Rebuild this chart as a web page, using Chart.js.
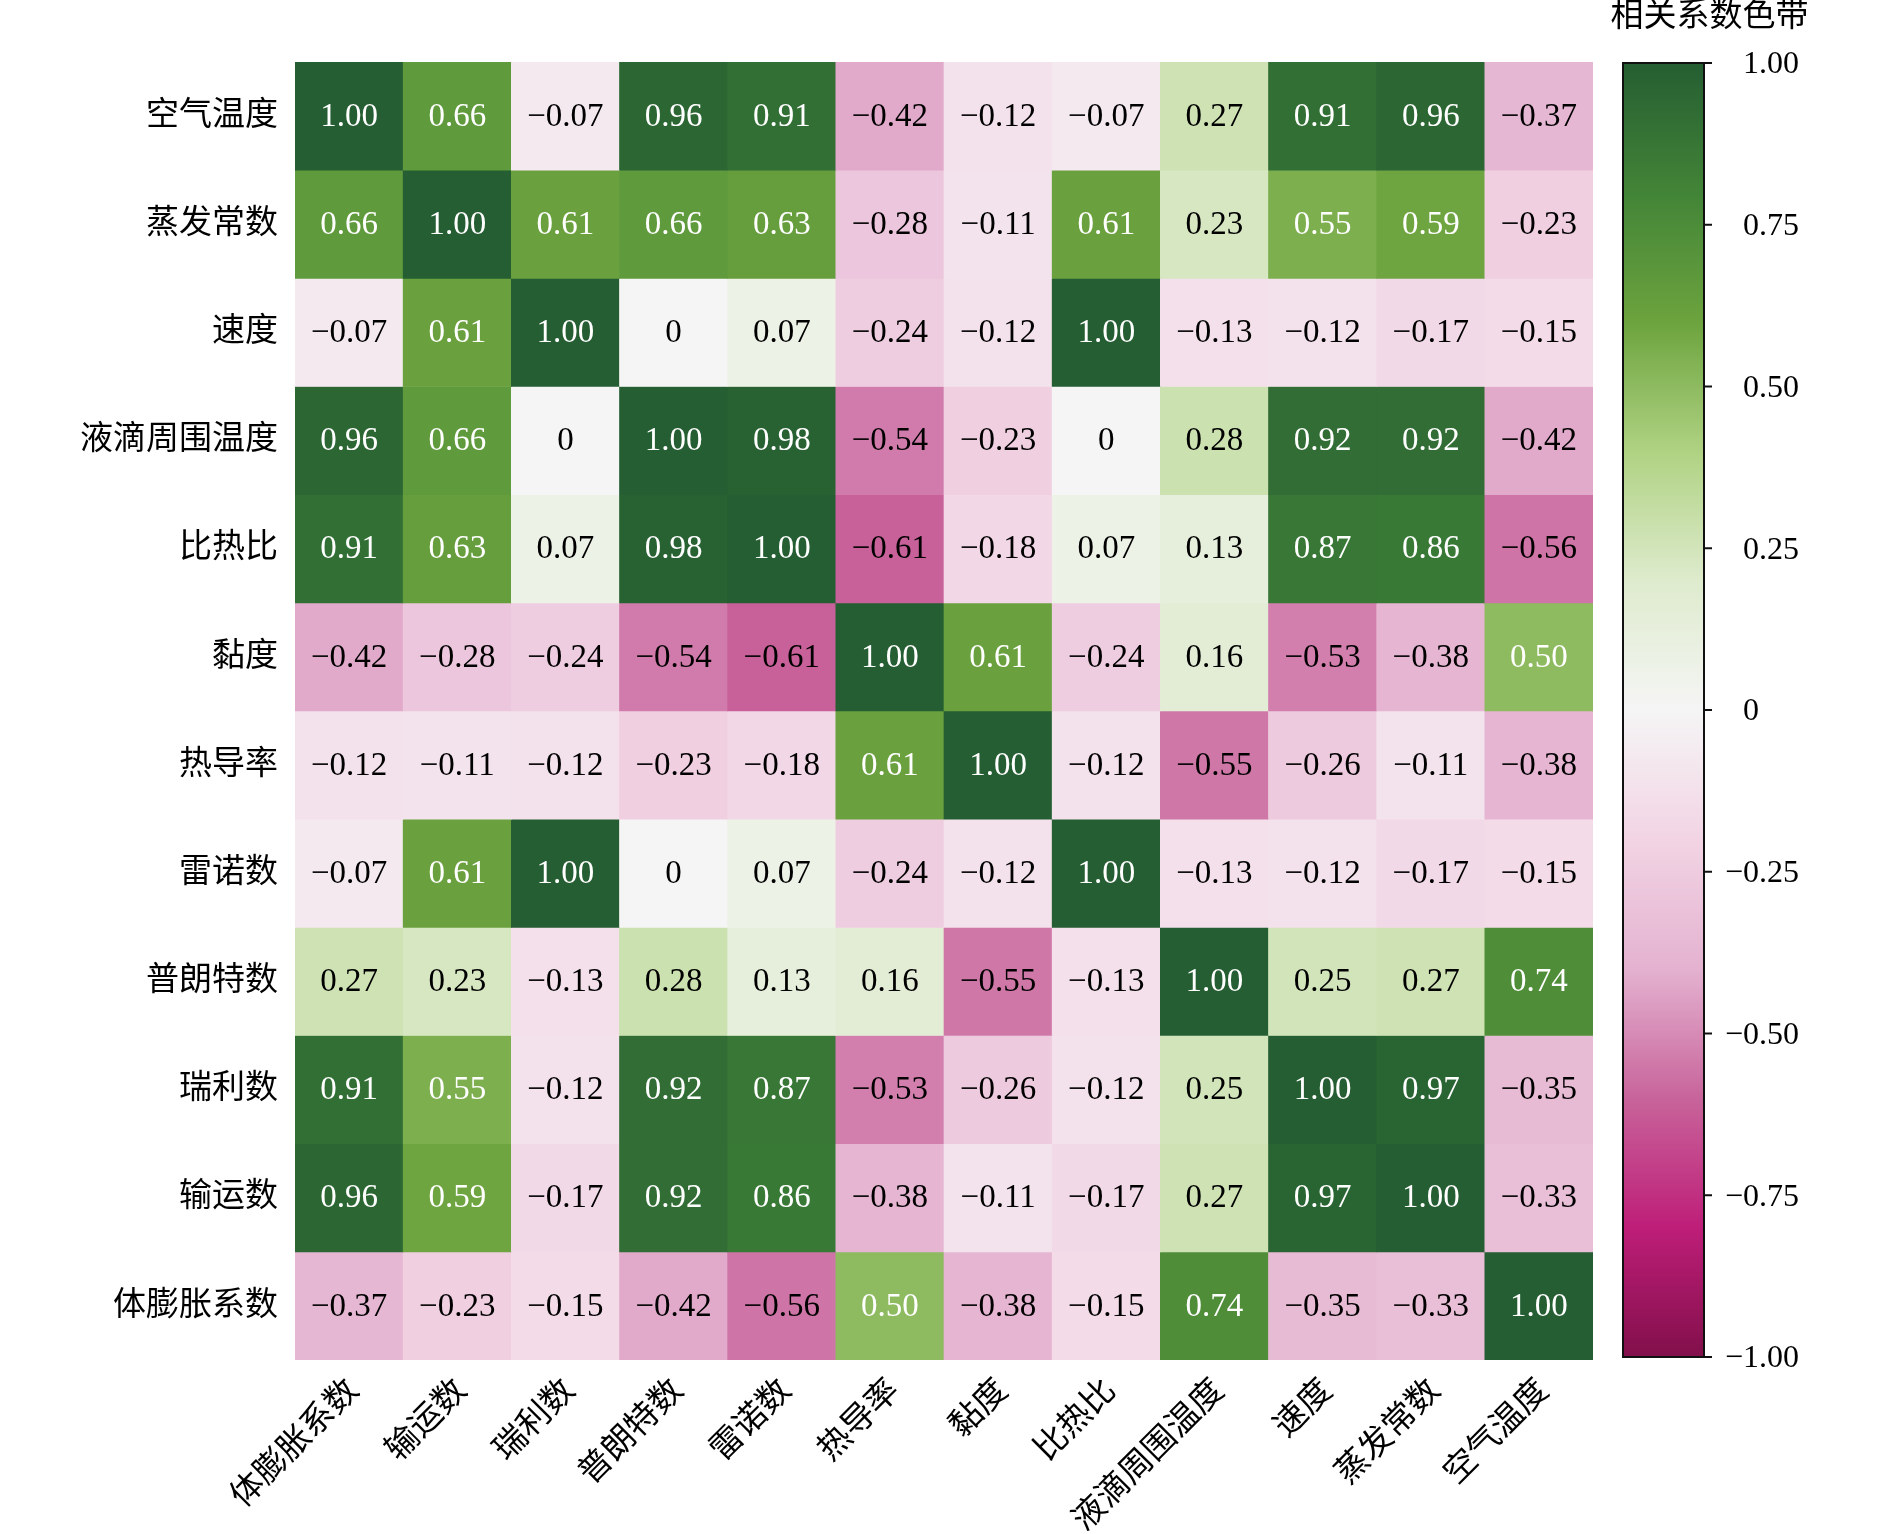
<!DOCTYPE html>
<html>
<head>
<meta charset="utf-8">
<script src="https://cdn.jsdelivr.net/npm/chart.js@4.4.1/dist/chart.umd.min.js"></script>
<style>
  html, body { margin: 0; padding: 0; background: #fff; }
  body { width: 1890px; height: 1534px; position: relative; overflow: hidden; }
  #heat { position: absolute; left: 0; top: 0; }
  #cbar { position: absolute; left: 1528px; top: 0; }
</style>
</head>
<body>
<canvas id="heat" width="1610" height="1534"></canvas>
<canvas id="cbar" width="362" height="1534"></canvas>
<script>
// row / column labels
const rowLabels = ['空气温度', '蒸发常数', '速度', '液滴周围温度', '比热比', '黏度',
  '热导率', '雷诺数', '普朗特数', '瑞利数', '输运数', '体膨胀系数'];
const colLabels = ['体膨胀系数', '输运数', '瑞利数', '普朗特数', '雷诺数', '热导率',
  '黏度', '比热比', '液滴周围温度', '速度', '蒸发常数', '空气温度'];

// correlation values, one array per row (top to bottom)
const rowAirTemp   = [1.00, 0.66, -0.07, 0.96, 0.91, -0.42, -0.12, -0.07, 0.27, 0.91, 0.96, -0.37];
const rowEvapConst = [0.66, 1.00, 0.61, 0.66, 0.63, -0.28, -0.11, 0.61, 0.23, 0.55, 0.59, -0.23];
const rowSpeed     = [-0.07, 0.61, 1.00, 0, 0.07, -0.24, -0.12, 1.00, -0.13, -0.12, -0.17, -0.15];
const rowDropTemp  = [0.96, 0.66, 0, 1.00, 0.98, -0.54, -0.23, 0, 0.28, 0.92, 0.92, -0.42];
const rowHeatRatio = [0.91, 0.63, 0.07, 0.98, 1.00, -0.61, -0.18, 0.07, 0.13, 0.87, 0.86, -0.56];
const rowViscosity = [-0.42, -0.28, -0.24, -0.54, -0.61, 1.00, 0.61, -0.24, 0.16, -0.53, -0.38, 0.50];
const rowConduct   = [-0.12, -0.11, -0.12, -0.23, -0.18, 0.61, 1.00, -0.12, -0.55, -0.26, -0.11, -0.38];
const rowReynolds  = [-0.07, 0.61, 1.00, 0, 0.07, -0.24, -0.12, 1.00, -0.13, -0.12, -0.17, -0.15];
const rowPrandtl   = [0.27, 0.23, -0.13, 0.28, 0.13, 0.16, -0.55, -0.13, 1.00, 0.25, 0.27, 0.74];
const rowRayleigh  = [0.91, 0.55, -0.12, 0.92, 0.87, -0.53, -0.26, -0.12, 0.25, 1.00, 0.97, -0.35];
const rowTransport = [0.96, 0.59, -0.17, 0.92, 0.86, -0.38, -0.11, -0.17, 0.27, 0.97, 1.00, -0.33];
const rowExpansion = [-0.37, -0.23, -0.15, -0.42, -0.56, 0.50, -0.38, -0.15, 0.74, -0.35, -0.33, 1.00];

const cbarTicks = [-1, -0.75, -0.5, -0.25, 0, 0.25, 0.5, 0.75, 1];

const matrix = [rowAirTemp, rowEvapConst, rowSpeed, rowDropTemp, rowHeatRatio, rowViscosity,
  rowConduct, rowReynolds, rowPrandtl, rowRayleigh, rowTransport, rowExpansion];

// pink-white-green map (PiYG-like, toned to the picture), from -1 to 1
const cmap = [
  [130, 15, 75], [190, 30, 120], [200, 100, 155], [228, 178, 208], [242, 212, 228],
  [245, 245, 245], [222, 235, 205], [175, 210, 130], [108, 163, 62], [66, 132, 55], [37, 94, 50]
];
function colorFor(v) {
  const t = Math.max(0, Math.min(1, (v + 1) / 2)) * (cmap.length - 1);
  const i = Math.min(cmap.length - 2, Math.floor(t));
  const f = t - i;
  const a = cmap[i], b = cmap[i + 1];
  const c = a.map((x, k) => Math.round(x + (b[k] - x) * f));
  return `rgb(${c[0]}, ${c[1]}, ${c[2]})`;
}

function fmt(v) {
  if (v === 0) return '0';
  return v.toFixed(2).replace('-', '\u2212');
}

const numFont = '"Liberation Serif", "Times New Roman", serif';
const cjkFont = '"Liberation Serif", "Noto Sans CJK SC", serif';

// cell labels drawn on each bar
const cellLabels = {
  id: 'cellLabels',
  afterDatasetsDraw(chart) {
    const ctx = chart.ctx;
    ctx.save();
    ctx.font = '33px ' + numFont;
    ctx.textAlign = 'center';
    ctx.textBaseline = 'middle';
    chart.data.datasets.forEach((ds, r) => {
      chart.getDatasetMeta(r).data.forEach((el, c) => {
        const v = matrix[r][c];
        ctx.fillStyle = v >= 0.5 ? '#ffffff' : '#000000';
        ctx.fillText(fmt(v), el.x, (el.y + el.base) / 2 + 1);
      });
    });
    ctx.restore();
  }
};

new Chart(document.getElementById('heat'), {
  type: 'bar',
  data: {
    labels: colLabels,
    datasets: matrix.map((row, r) => ({
      label: rowLabels[r],
      data: row.map(() => [r, r + 1]),
      backgroundColor: row.map(colorFor),
      borderWidth: 0,
      grouped: false,
      categoryPercentage: 1,
      barPercentage: 1
    }))
  },
  options: {
    responsive: false,
    animation: false,
    layout: { padding: { top: 62, right: 17, left: 0, bottom: 0 } },
    plugins: { legend: { display: false }, tooltip: { enabled: false } },
    scales: {
      x: {
        grid: { display: false },
        border: { display: false },
        ticks: {
          autoSkip: false,
          minRotation: 45,
          maxRotation: 45,
          padding: 4,
          labelOffset: 5,
          color: '#000',
          font: { family: cjkFont, size: 33 }
        },
        afterFit(scale) { scale.height = 174; }
      },
      y: {
        type: 'linear',
        min: 0,
        max: rowLabels.length,
        reverse: true,
        grid: { display: false },
        border: { display: false },
        afterBuildTicks(scale) {
          scale.ticks = rowLabels.map((_, i) => ({ value: i + 0.5 }));
        },
        ticks: {
          padding: 9,
          color: '#000',
          font: { family: cjkFont, size: 33 },
          callback: (v) => rowLabels[Math.floor(v)]
        },
        afterFit(scale) { scale.width = 295; }
      }
    }
  },
  plugins: [cellLabels]
});

// colour bar frame, ticks, labels and title
const cbarDecor = {
  id: 'cbarDecor',
  afterDraw(chart) {
    const ctx = chart.ctx;
    const area = chart.chartArea;
    const scale = chart.scales.y;
    ctx.save();
    ctx.strokeStyle = '#111';
    ctx.lineWidth = 2;
    ctx.strokeRect(area.left, area.top, area.right - area.left, area.bottom - area.top);
    ctx.font = '32px ' + numFont;
    ctx.fillStyle = '#000';
    ctx.textBaseline = 'middle';
    const tx = area.right + 39;
    cbarTicks.forEach(t => {
      const y = scale.getPixelForValue(t);
      ctx.beginPath();
      ctx.moveTo(area.right, y);
      ctx.lineTo(area.right + 8, y);
      ctx.stroke();
      const txt = t === 0 ? '0' : Math.abs(t).toFixed(2);
      ctx.textAlign = 'left';
      ctx.fillText(txt, tx, y + 2);
      if (t < 0) {
        ctx.textAlign = 'right';
        ctx.fillText('\u2212', tx, y + 2);
      }
    });
    // title
    ctx.font = '33px ' + cjkFont;
    ctx.textAlign = 'center';
    ctx.fillText('相关系数色带', (area.left + area.right) / 2 + 46, 17);
    ctx.restore();
  }
};

new Chart(document.getElementById('cbar'), {
  type: 'bar',
  data: {
    labels: ['c'],
    datasets: [{
      data: [[-1, 1]],
      borderWidth: 0,
      categoryPercentage: 1,
      barPercentage: 1,
      backgroundColor(context) {
        const chart = context.chart;
        const a = chart.chartArea;
        if (!a) return '#ccc';
        const g = chart.ctx.createLinearGradient(0, a.bottom, 0, a.top);
        cmap.forEach((c, i) => g.addColorStop(i / (cmap.length - 1), `rgb(${c[0]}, ${c[1]}, ${c[2]})`));
        return g;
      }
    }]
  },
  options: {
    responsive: false,
    animation: false,
    layout: { padding: { top: 63, left: 95, right: 0, bottom: 177 } },
    plugins: { legend: { display: false }, tooltip: { enabled: false } },
    scales: {
      x: { display: false },
      y: {
        position: 'right',
        min: -1,
        max: 1,
        grid: { display: false },
        border: { display: false },
        ticks: { display: false, stepSize: 0.25 },
        afterFit(scale) { scale.width = 186; }
      }
    }
  },
  plugins: [cbarDecor]
});
</script>
</body>
</html>
